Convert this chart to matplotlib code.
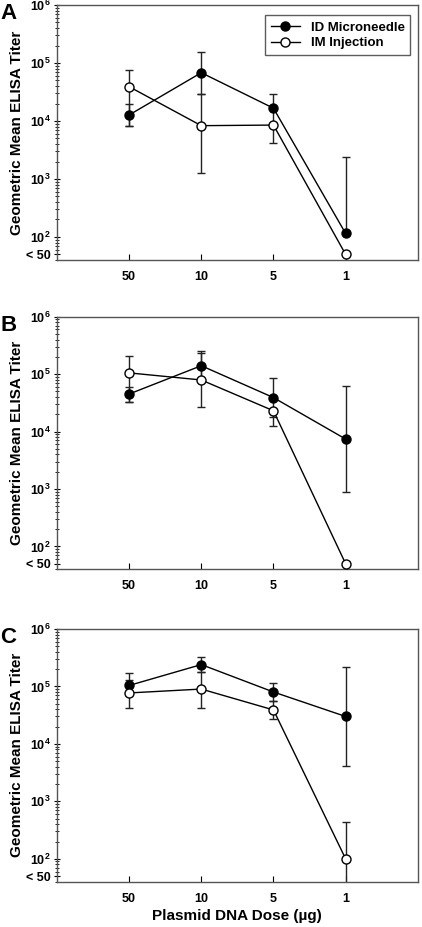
import numpy as np
import matplotlib
matplotlib.use("Agg")
import matplotlib.pyplot as plt
from matplotlib.ticker import LogLocator, NullFormatter

plt.rcParams['font.family'] = ['Liberation Sans', 'DejaVu Sans']
plt.rcParams['font.weight'] = 'bold'
plt.rcParams['mathtext.fontset'] = 'custom'
plt.rcParams['mathtext.rm'] = 'Liberation Sans:bold'
plt.rcParams['mathtext.bf'] = 'Liberation Sans:bold'

doses = ["50", "10", "5", "1"]

# panel A
a_id = [12700, 68000, 16600, 115]
a_id_lo = [8300, 29000, 8500, 115]
a_id_hi = [20000, 155000, 29000, 2400]
a_im = [39000, 8300, 8500, 50]
a_im_lo = [8300, 1260, 4100, 50]
a_im_hi = [76000, 29000, 8500, 50]

# panel B
b_id = [45000, 140000, 39000, 7400]
b_id_lo = [33000, 78000, 18000, 900]
b_id_hi = [59000, 250000, 87000, 61000]
b_im = [105000, 79000, 23000, 50]
b_im_lo = [33000, 27000, 12600, 50]
b_im_hi = [207000, 230000, 23000, 50]

# panel C
c_id = [104000, 240000, 80000, 30000]
c_id_lo = [70000, 180000, 56000, 4200]
c_id_hi = [170000, 330000, 114000, 220000]
c_im = [77000, 90000, 39000, 100]
c_im_lo = [42000, 42000, 27000, 20]
c_im_hi = [130000, 180000, 56000, 440]

panels = [
    ("A", a_id, a_id_lo, a_id_hi, a_im, a_im_lo, a_im_hi),
    ("B", b_id, b_id_lo, b_id_hi, b_im, b_im_lo, b_im_hi),
    ("C", c_id, c_id_lo, c_id_hi, c_im, c_im_lo, c_im_hi),
]
boxes = [(0.7195, 0.9946), (0.3859, 0.6584), (0.0489, 0.3215)]

fig = plt.figure(figsize=(4.22, 9.27), dpi=100)
x = np.arange(1, 5)

for (letter, idv, idlo, idhi, imv, imlo, imhi), (b, t) in zip(panels, boxes):
    ax = fig.add_axes([0.135, b, 0.855, t - b])
    idv = np.array(idv); imv = np.array(imv)
    ax.errorbar(x, imv, yerr=[imv - np.array(imlo), np.array(imhi) - imv],
                fmt='none', ecolor='#222222', elinewidth=1, capsize=3, capthick=1, zorder=2)
    ax.errorbar(x, idv, yerr=[idv - np.array(idlo), np.array(idhi) - idv],
                fmt='none', ecolor='#222222', elinewidth=1, capsize=3, capthick=1, zorder=2)
    ax.plot(x, idv, '-o', color='black', mfc='black', mec='black', ms=6.5, lw=1,
            label='ID Microneedle', zorder=3)
    ax.plot(x, imv, '-o', color='black', mfc='white', mec='black', ms=6.5, lw=1,
            label='IM Injection', zorder=3)
    ax.set_yscale('log')
    ax.set_ylim(40, 1e6)
    ax.set_xlim(0, 5)
    ax.set_xticks(x)
    ax.set_xticklabels(doses)
    yt = [50, 1e2, 1e3, 1e4, 1e5, 1e6]
    ax.set_yticks(yt)
    ax.set_yticklabels(['< 50'] + [r'$\mathbf{10^{%d}}$' % k for k in range(2, 7)])
    ax.yaxis.set_minor_locator(LogLocator(base=10, subs=np.arange(2, 10), numticks=20))
    ax.yaxis.set_minor_formatter(NullFormatter())
    ax.tick_params(axis='y', which='major', direction='inout', length=5, width=0.8, labelsize=9, pad=2)
    ax.tick_params(axis='y', which='minor', direction='inout', length=3, width=0.6)
    ax.tick_params(axis='x', which='major', direction='in', length=4, width=0.8, labelsize=9, pad=8)
    ax.tick_params(axis='x', which='minor', bottom=False)
    for s in ax.spines.values():
        s.set_color('#555555')
        s.set_linewidth(1)
    ax.set_ylabel('Geometric Mean ELISA Titer', fontsize=11, fontweight='bold')
    ax.yaxis.set_label_coords(-0.09, 0.5)
    fig.text(0.0, t + 0.002, letter, fontsize=16, fontweight='bold', va='top', ha='left')
    if letter == "A":
        leg = ax.legend(loc='upper right', fontsize=9.5, frameon=True, fancybox=False,
                        borderpad=0.45, handlelength=2.2, labelspacing=0.25,
                        bbox_to_anchor=(0.998, 0.985))
        leg.get_frame().set_edgecolor('#333333')
        leg.get_frame().set_linewidth(1)
    if letter == "C":
        ax.set_xlabel('Plasmid DNA Dose (µg)', fontsize=11, fontweight='bold', labelpad=3)

fig.savefig('out.png', dpi=100)
